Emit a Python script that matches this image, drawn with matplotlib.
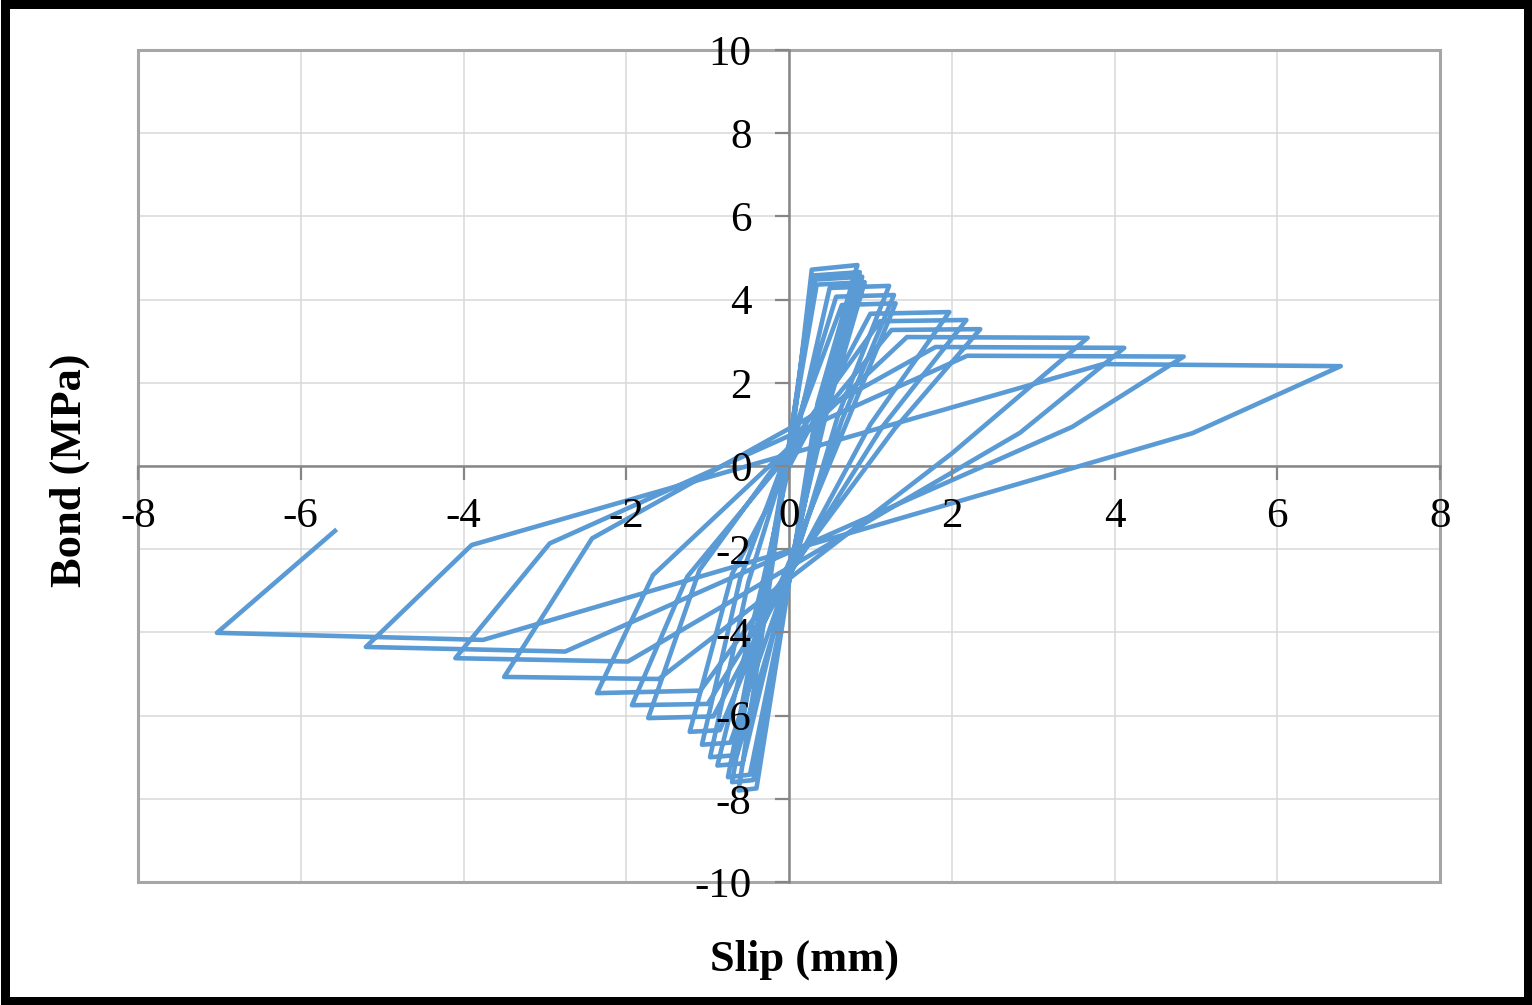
import matplotlib
matplotlib.use("Agg")
import matplotlib.pyplot as plt
from matplotlib.patches import Rectangle

# ------------------------------------------
# Cyclic bond-slip data (key points of each loop)
# ------------------------------------------

# positive half: start of plateau, peak, end of unloading
pos_start_slip = [0.28, 0.30, 0.32, 0.34, 0.50, 0.58, 0.65, 1.00, 1.12, 1.26, 1.45, 1.80, 2.19, 3.86]
pos_start_bond = [4.72, 4.58, 4.48, 4.36, 4.28, 4.07, 3.87, 3.66, 3.48, 3.27, 3.10, 2.86, 2.65, 2.45]
pos_peak_slip = [0.84, 0.87, 0.90, 0.93, 1.23, 1.29, 1.31, 1.97, 2.18, 2.35, 3.67, 4.12, 4.85, 6.78]
pos_peak_bond = [4.83, 4.66, 4.55, 4.42, 4.33, 4.11, 3.91, 3.70, 3.51, 3.29, 3.08, 2.84, 2.63, 2.40]
pos_unload_slip = [0.35, 0.38, 0.42, 0.45, 0.60, 0.65, 0.70, 1.00, 1.15, 1.30, 2.00, 2.84, 3.48, 4.96]
pos_unload_bond = [1.50, 1.40, 1.30, 1.20, 1.20, 1.10, 1.00, 1.00, 0.95, 0.90, 0.30, 0.80, 0.94, 0.79]

# negative half: start of plateau, peak, end of unloading
neg_start_slip = [-0.40, -0.44, -0.48, -0.57, -0.64, -0.72, -0.85, -0.93, -1.00, -1.09, -1.60, -1.98, -2.75, -3.76]
neg_start_bond = [-7.75, -7.55, -7.42, -7.15, -6.95, -6.65, -6.35, -6.02, -5.72, -5.40, -5.12, -4.70, -4.46, -4.18]
neg_peak_slip = [-0.62, -0.70, -0.75, -0.88, -0.97, -1.07, -1.22, -1.73, -1.93, -2.36, -3.50, -4.10, -5.20, -7.03]
neg_peak_bond = [-7.80, -7.60, -7.48, -7.20, -7.00, -6.70, -6.39, -6.06, -5.75, -5.46, -5.07, -4.62, -4.35, -4.01]
neg_unload_slip = [-0.25, -0.28, -0.30, -0.33, -0.50, -0.60, -0.70, -1.10, -1.25, -1.67, -2.42, -2.94, -3.90, -5.58]
neg_unload_bond = [-3.00, -2.95, -2.90, -2.85, -2.80, -2.70, -2.60, -2.50, -2.66, -2.62, -1.74, -1.86, -1.90, -1.56]

x_ticks = list(range(-8, 9, 2))
y_ticks = list(range(-10, 11, 2))

# ------------------------------------------
# Build the loading path
# ------------------------------------------

slip = [0.0]
bond = [0.0]
for i in range(len(pos_peak_slip)):
    slip += [pos_start_slip[i], pos_peak_slip[i], pos_unload_slip[i],
             neg_start_slip[i], neg_peak_slip[i], neg_unload_slip[i]]
    bond += [pos_start_bond[i], pos_peak_bond[i], pos_unload_bond[i],
             neg_start_bond[i], neg_peak_bond[i], neg_unload_bond[i]]

# ------------------------------------------
# Plot
# ------------------------------------------

plt.rcParams["font.family"] = ["Liberation Serif", "DejaVu Serif"]
plt.rcParams["axes.unicode_minus"] = False

W, H = 1532, 1005
fig = plt.figure(figsize=(W / 100, H / 100), dpi=100)
ax = fig.add_axes([138 / W, 1 - 882 / H, (1440 - 138) / W, (882 - 50) / H])

# gridlines drawn by hand so they stay under the curve while tick labels stay on top
for xv in x_ticks:
    ax.axvline(xv, color="#D9D9D9", linewidth=1.1, zorder=0.5)
for yv in y_ticks:
    ax.axhline(yv, color="#D9D9D9", linewidth=1.1, zorder=0.5)

ax.plot(slip, bond, color="#5B9BD5", linewidth=3.3, solid_joinstyle="round", zorder=2)

ax.set_xlim(-8, 8)
ax.set_ylim(-10, 10)
ax.set_xticks(x_ticks)
ax.set_yticks(y_ticks)
ax.set_axisbelow(False)

for side in ["top", "right"]:
    ax.spines[side].set_visible(False)
for side in ["left", "bottom"]:
    ax.spines[side].set_position(("data", 0))
    ax.spines[side].set_color("#868686")
    ax.spines[side].set_linewidth(1.8)
    ax.spines[side].set_zorder(1)

ax.tick_params(axis="both", direction="out", length=10, width=1.6,
               color="#868686", labelsize=31, labelcolor="black")
ax.tick_params(axis="x", pad=13)
ax.tick_params(axis="y", pad=17)

# plot-area border
ax.add_patch(Rectangle((0, 0), 1, 1, transform=ax.transAxes, fill=False,
                       edgecolor="#A6A6A6", linewidth=2.2, clip_on=False, zorder=1))

fig.text(805 / W, 1 - 960 / H, "Slip (mm)", fontsize=32, fontweight="bold",
         ha="center", va="center")
fig.text(70 / W, 1 - 470 / H, "Bond (MPa)", fontsize=32, fontweight="bold",
         ha="center", va="center", rotation=90)

# outer black frame
fig.patches.append(Rectangle((4.5 / W, 4.5 / H), 1 - 9 / W, 1 - 9 / H,
                             transform=fig.transFigure, fill=False,
                             edgecolor="black", linewidth=9 * 0.72))

fig.savefig("out.png", dpi=100)
